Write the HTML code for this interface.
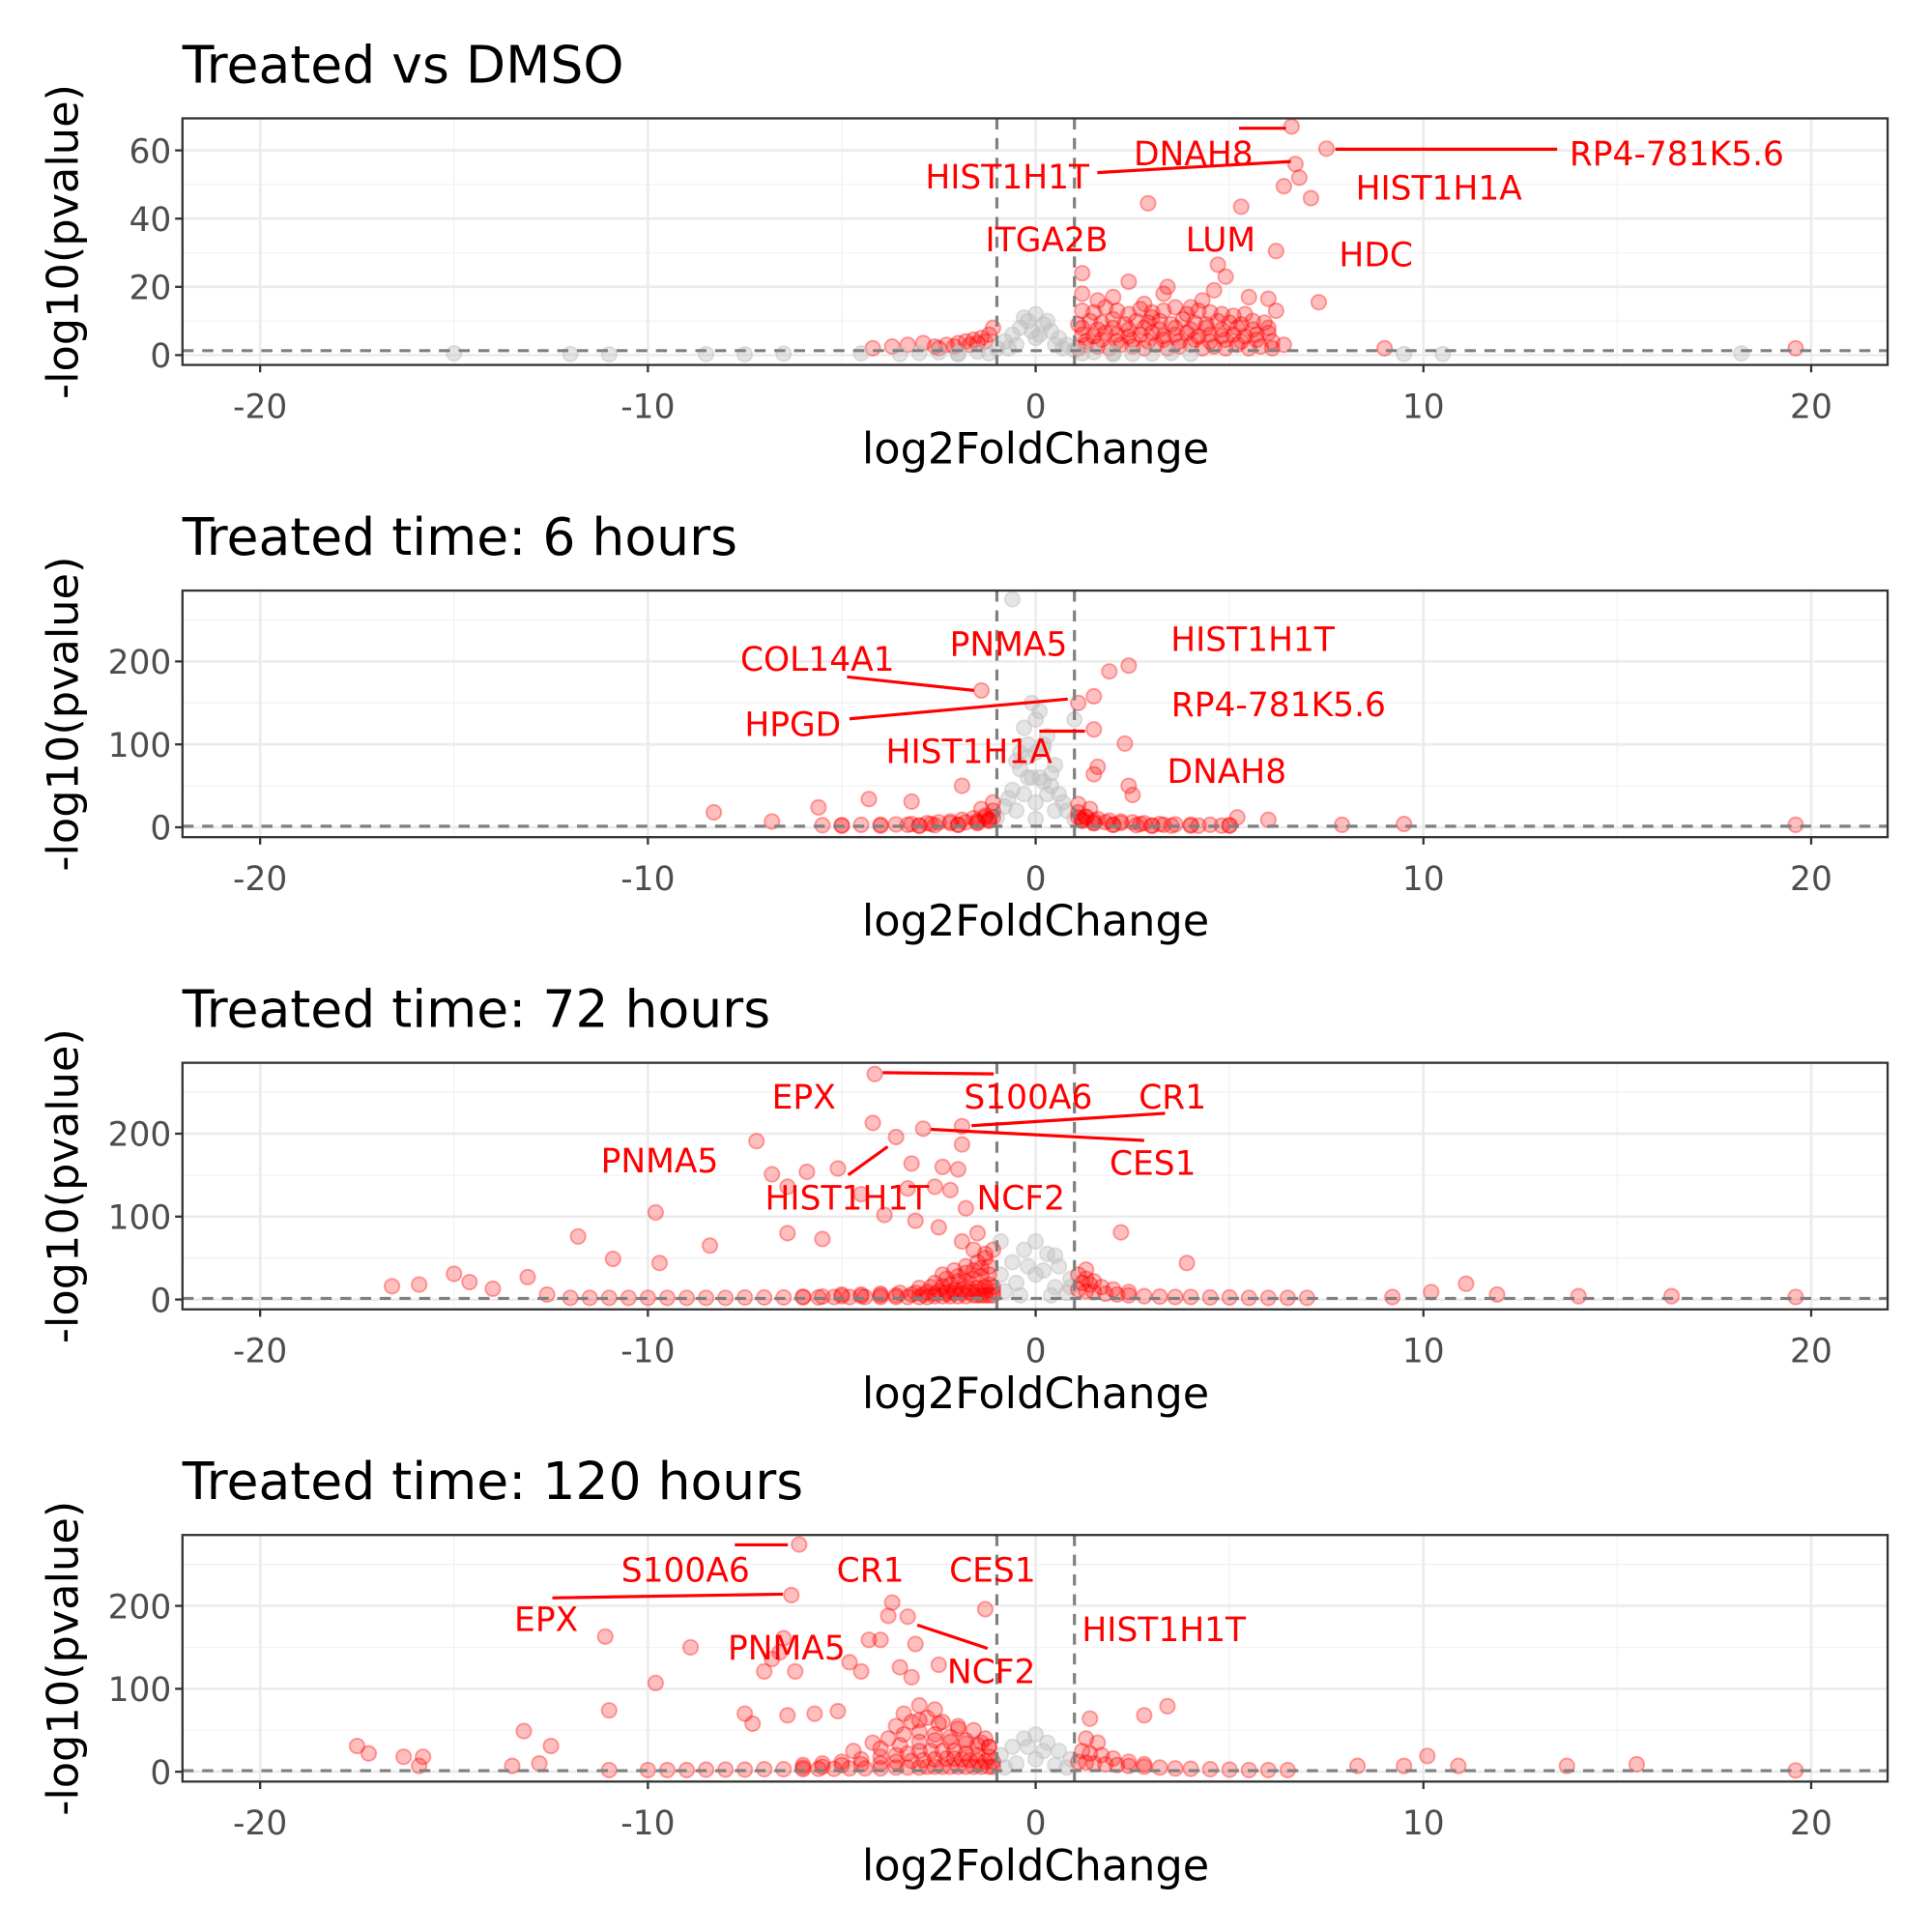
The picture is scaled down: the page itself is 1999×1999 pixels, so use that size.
<!DOCTYPE html>
<html><head><meta charset="utf-8"><style>
html,body{margin:0;padding:0;background:#fff}
svg{display:block;font-family:"DejaVu Sans","Liberation Sans",sans-serif}
</style></head><body>
<svg id="chart" width="1999" height="1999" viewBox="0 0 1567 1567" xmlns="http://www.w3.org/2000/svg"></svg>
<script>
// ---------- data ----------
const panelTitles = ["Treated vs DMSO","Treated time: 6 hours","Treated time: 72 hours","Treated time: 120 hours"];
const xTicks = [-20,-10,0,10,20];
const yTicks1 = [0,20,40,60];
const yTicks2 = [0,100,200];
const lfcCut = 1;
const pCut = 1.30103;

// Panel 1
const p1x = [6.6,7.5,6.7,6.8,6.4,7.1,2.9,5.3,6.2,4.7,4.9,1.2,1.2,2.4,3.4,7.3,6.0,9.0,19.6,18.2,
 1.1,1.3,1.6,1.9,2.2,2.5,2.8,3.1,3.4,3.7,4.0,4.3,4.6,4.9,5.2,5.5,5.8,6.1,6.4,
 1.2,1.5,1.8,2.1,2.4,2.7,3.0,3.3,3.6,3.9,4.2,4.5,4.8,5.1,5.4,5.7,6.0,
 1.1,1.4,1.7,2.0,2.3,2.6,2.9,3.2,3.5,3.8,4.1,4.4,4.7,5.0,5.3,5.6,5.9,
 1.2,1.5,1.8,2.1,2.4,2.7,3.0,3.3,3.6,3.9,4.2,4.5,4.8,5.1,5.4,
 1.6,2.0,2.8,3.3,4.3,4.6,5.5,6.2,4.0,3.0,
 1.3,1.7,2.1,2.5,2.9,3.3,3.7,4.1,4.5,4.9,5.3,5.7,6.1,
 1.2,1.6,2.0,2.4,2.8,3.2,3.6,4.0,4.4,4.8,5.2,5.6,6.0,
 -4.2,-3.7,-3.3,-2.9,-2.6,-2.3,-2.0,-1.8,-1.6,-1.4,-1.2,-1.1,-1.3,-1.5,-1.7,-2.1,-2.5,
 -4.5,-3.5,-3,-2.5,-2,-1.5,-1,-0.8,-0.6,-0.4,-0.2,0,0.2,0.4,0.6,0.8,1,1.5,2,2.5,3,3.5,4,-0.5,0,0.5,-0.3,0.3,-1.2,1.2,-7.5,-8.5,-11,-15,-12,-6.5,9.5,10.5,-0.7,0.7,-0.1,0.1,-2,2];
const p1y = [67,60.5,56,52,49.5,46,44.5,43.5,30.5,26.5,23,24,18,21.5,20,15.5,16.5,2,2,0.5,
 2,3,2.5,2,3,2.5,2,3,2,2.5,3,2,2.5,2,3,2,2.5,2,3,
 6,5.5,6.5,6,5.5,6,6.5,5.5,6,6.5,5.5,6,5.5,6,5.5,6,6.5,
 9,10,9.5,10.5,9,10,9.5,10,9,10.5,9.5,9,10,9.5,9,10,9.5,
 13,12.5,14,13,12,13.5,12.5,13,14,12,13,12.5,12,11.5,12,
 16,17,15,18,16,19,17,13,14,11,
 4,4.5,4,4.5,4,4.5,4,4.5,4,4.5,4,4.5,4,
 8,7.5,8,7.5,8,7.5,8,7.5,8,7.5,8,7.5,8,
 2,2.5,3,3.5,2.5,3,3.5,4,4.5,5,6,8,4,3.5,3,2.5,2,
 0.5,0.3,0.6,0.8,0.5,1,2,4,6,8,10,12,9,7,5,3,1.5,0.8,0.5,0.3,0.4,0.6,0.3,3,5,3,11,10,0.5,0.5,0.2,0.3,0.2,0.5,0.3,0.4,0.3,0.3,2,2,7,6,0.2,0.2];

// Panel 2
const p2x = [-0.6,2.4,1.9,-1.4,1.5,1.1,1.0,1.5,2.3,1.6,1.5,2.4,2.5,-1.9,-3.2,-4.3,-5.6,-8.3,-6.8,5.2,7.9,9.5,19.6,6.0,
 -2,-1.5,-1,-0.8,-0.6,-0.4,-0.2,0,0.2,0.4,0.6,0.8,1,1.5,2,-0.3,0.3,-0.1,0.1,-0.5,0.5,-0.2,0.2,0,-0.7,0.7,0,-3,3,-1.2,1.2,
 -0.5,-0.3,-0.1,0.1,0.3,0.5,-0.4,0,0.4,-0.2,0.2,
 -1.1,-1.3,-1.6,-1.9,-2.2,-2.5,-2.8,-3.2,-3.6,-4,-4.5,-5,-5.5,-1.2,-1.5,-2,-2.6,-3,-1.1,-1.4,
 -1.1,-1.2,-1.3,-1.5,-1.8,-2.2,-2.7,-3.3,-4,-5,
 1.1,1.3,1.6,1.9,2.2,2.5,2.8,3.2,3.6,4,4.5,5,1.2,1.5,2,2.6,3,3.5,4.2,4.8,1.1,1.4,
 1.1,1.2,1.3,1.5,1.8,2.2,2.7,3.3,4,5];
const p2y = [275,195,188,165,158,150,130,118,101,73,64,50,39,50,31,34,24,18,7,12,3,4,3,9,
 3,6,12,25,45,70,100,130,95,65,40,20,10,5,3,120,110,150,140,80,75,60,55,30,35,30,10,2,2,8,8,
 20,40,60,60,40,20,90,90,50,85,100,
 20,14,11,9,7,6,5,4,3.5,3,3,2.5,2.5,8,5,3,2.5,2,30,22,
 12,10,12,8,6,5,4,3,2,2,
 18,13,10,8,7,6,5,4,3.5,3,3,2.5,8,5,3,2.5,2,2,2,2,28,22,
 12,10,12,8,6,5,4,3,2,2];

// Panel 3
const p3x = [-4.15,-4.2,-2.9,-3.6,-1.9,-7.2,-3.2,-5.1,-5.9,-6.8,-1.9,-2.4,-2.0,-6.4,-4.5,-3.3,-2.6,-2.2,-9.8,-11.8,-6.4,-5.5,-3.9,-3.1,-2.5,-1.8,-8.4,-9.7,-10.9,-13.1,-15,-14.6,-15.9,-16.6,-14,-12.6,2.2,3.9,0.5,1.3,11.1,10.2,14,16.4,19.6,11.9,9.2,
 -0.9,-0.6,-0.3,0,0.3,0.6,0.9,-0.5,0,0.5,-0.8,0.8,-0.2,0.2,-0.4,0.4,-0.9,0.9,
 -1.1,-1.2,-1.3,-1.4,-1.5,-1.6,-1.8,-2.0,-2.2,-2.4,-2.6,-2.8,-3.0,-3.3,-3.6,-4.0,-4.4,-4.8,-5.2,-5.6,-6,-6.5,-7,-7.5,-8,-8.5,-9,-9.5,-10,-10.5,-11,-11.5,-12,
 -1.1,-1.2,-1.3,-1.5,-1.7,-1.9,-2.1,-2.3,-2.5,-2.8,-3.1,-3.5,-4,-4.5,-5,
 -1.2,-1.4,-1.6,-1.8,-2,-2.2,-2.4,-2.7,-3,-1.3,-1.5,-1.8,-2.1,-2.4,-1.6,-1.9,
 -1.1,-1.3,-1.5,-1.7,-1.9,-2.1,-2.3,-2.6,-2.9,-3.2,-3.6,-4,-4.5,-5,-5.5,-6,-1.2,-1.4,-1.6,-1.8,-2,-2.3,-2.6,-1.1,-1.3,-1.5,
 1.1,1.3,1.5,1.8,2.1,2.4,2.8,3.2,3.6,4,4.5,5,5.5,6,6.5,7,1.2,1.4,1.7,2,2.4,1.1,1.3,1.5];
const p3y = [272,213,206,196,209,191,164,158,154,151,187,160,157,136,127,134,136,132,105,76,80,73,102,95,87,110,65,44,49,27,31,21,18,16,13,6,81,44,53,36,19,9,4,4,3,6,3,
 30,45,60,70,55,40,25,20,30,15,10,8,40,35,5,5,70,15,
 5,5,5,5,5,5,4,4,4,4,4,3,3,3,3,3,3,3,3,2.5,2.5,2.5,2.5,2.5,2,2,2,2,2,2,2,2,2,
 15,18,15,14,13,12,11,10,10,9,8,8,7,6,6,
 30,28,25,22,22,18,16,15,14,50,45,40,35,30,60,70,
 10,10,9,9,8,8,7,7,6,6,5,5,4,4,3.5,3.5,40,38,35,32,28,25,20,60,55,80,
 12,10,9,7,6,5,4,3.5,3,3,2.5,2.5,2,2,2,2,20,18,15,12,9,30,25,22];

// Panel 4
const p4x = [-6.1,-6.3,-3.7,-3.8,-1.3,-3.3,-11.1,-8.9,-6.5,-6.6,-4.3,-4.0,-3.1,-7.0,-6.8,-6.2,-4.8,-4.5,-3.5,-2.5,-3.2,-9.8,-7.5,-11,-7.3,-6.4,-5.7,-5.1,3.4,2.8,1.4,10.1,10.9,13.7,15.5,19.6,8.3,9.5,-17.5,-17.2,-16.3,-15.8,-15.9,-13.2,-12.5,-13.5,-12.8,
 -0.9,-0.6,-0.3,0,0.3,0.6,0.9,-0.5,0,0.5,-0.8,0.8,-0.2,0.2,
 -1.1,-1.2,-1.4,-1.6,-1.8,-2.0,-2.2,-2.4,-2.6,-2.8,-3.0,-3.3,-3.6,-4.0,-4.4,-4.8,-5.2,-5.6,-6,-6.5,-7,-7.5,-8,-8.5,-9,-9.5,-10,-11,
 -1.2,-1.5,-1.8,-2.1,-2.4,-2.7,-3,-3.3,-3.6,-4,-4.5,-5,-5.5,-6,
 -1.4,-1.8,-2.2,-2.6,-3,-3.4,-3.8,-4.2,-4.7,
 -2,-2.4,-2.8,-3.2,-3.6,-2.6,-3,-3.4,-1.3,-1.2,
 -1.1,-1.3,-1.5,-1.7,-1.9,-2.1,-2.3,-2.6,-2.9,-3.2,-3.6,-4,-4.5,-5,-5.5,-6,-1.2,-1.5,-1.8,-2.2,-2.6,-3,-3.5,-4,-1.6,-2,-2.5,-3,
 1.1,1.3,1.5,1.8,2.1,2.4,2.8,3.2,3.6,4,4.5,5,5.5,6,6.5,1.2,1.4,1.7,2,2.4,2.8,1.3,1.6];
const p4y = [274,213,204,188,196,187,163,150,161,144,159,159,154,121,136,121,132,121,126,129,114,107,70,74,58,68,70,73,79,68,64,19,7,7,9,1.5,7,7,31,22,18,18,7,49,31,7,10,
 20,30,40,45,35,25,15,10,15,8,5,5,30,25,
 6,6,6,6,6,6,6,6,6,6,5,5,5,4,4,4,3.5,3.5,3,3,3,2.5,2.5,2.5,2,2,2,2,
 18,20,22,25,25,25,25,22,20,18,15,12,10,8,
 35,38,42,45,48,45,40,35,25,
 55,60,65,60,55,75,80,70,40,30,
 12,12,13,14,15,16,16,15,14,13,12,10,9,8,6,5,30,32,34,36,38,36,32,28,50,52,58,62,
 12,11,10,9,8,7,6,5,4,3.5,3,2.5,2,2,2,25,22,20,16,12,9,40,35];

const xsAll = [p1x,p2x,p3x,p4x];
const ysAll = [p1y,p2y,p3y,p4y];

const labels1 = ["DNAH8","RP4-781K5.6","HIST1H1T","HIST1H1A","ITGA2B","LUM","HDC"];
const labels2 = ["HIST1H1T","PNMA5","COL14A1","RP4-781K5.6","HPGD","HIST1H1A","DNAH8"];
const labels3 = ["EPX","S100A6","CR1","PNMA5","CES1","HIST1H1T","NCF2"];
const labels4 = ["S100A6","CR1","CES1","EPX","HIST1H1T","PNMA5","NCF2"];

// ---------- layout ----------
const labelPos = [
 [[968,131],[1360,131],[817,150],[1167,159],[849,201],[990,201],[1116,213]],
 [[1016,525],[818,529],[663,541],[1037,578],[643,594],[786,616],[995,632]],
 [[652,896],[834,896],[951,896],[535,948],[935,950],[687,978],[828,978]],
 [[556,1280],[706,1280],[805,1280],[443,1320],[944,1328],[638,1343],[804,1362]]];
const segs = [
 [[1005,104,1043,104],[1083,121,1263,121],[890,140,1047,131]],
 [[687,549,790,560],[689,583,866,567],[843,593,880,593]],
 [[716,870,806,871],[788,913,945,903],[755,916,928,925],[688,953,720,930]],
 [[596,1253,639,1253],[448,1296,635,1293],[744,1318,801,1337]]];
const labelSets=[labels1,labels2,labels3,labels4];

const NS="http://www.w3.org/2000/svg";
const svg=document.getElementById('chart');
function mk(tag,attrs,parent){const e=document.createElementNS(NS,tag);for(const k in attrs)e.setAttribute(k,attrs[k]);(parent||svg).appendChild(e);return e;}

const L=148,R=1531,PH=200,OFF=383;
const xScale=v=>840+v*31.45;

for(let p=0;p<4;p++){
  const top=96+p*OFF, bot=top+PH;
  const y0=bot-8;
  const yTicks = p===0?yTicks1:yTicks2;
  const ppu = p===0?2.767:0.6725;
  const yScale=v=>y0-v*ppu;
  const g=mk('g',{});
  
  

  const t=mk('text',{x:148,y:top-29,'font-size':42,fill:'#000'},g);
  t.textContent=panelTitles[p];
  
  

  for(let i=0;i<xTicks.length-1;i++){const xv=(xTicks[i]+xTicks[i+1])/2;mk('line',{x1:xScale(xv),x2:xScale(xv),y1:top,y2:bot,stroke:'#f2f2f2','stroke-width':1},g);}
  for(let i=0;i<yTicks.length;i++){const yv=yTicks[i]+(yTicks[1]-yTicks[0])/2;const yy=yScale(yv);if(yy>top)mk('line',{x1:L,x2:R,y1:yy,y2:yy,stroke:'#f2f2f2','stroke-width':1},g);}
  xTicks.forEach(v=>mk('line',{x1:xScale(v),x2:xScale(v),y1:top,y2:bot,stroke:'#ebebeb','stroke-width':2},g));
  yTicks.forEach(v=>mk('line',{x1:L,x2:R,y1:yScale(v),y2:yScale(v),stroke:'#ebebeb','stroke-width':2},g));

  const xs=xsAll[p], ys=ysAll[p];
  const pg=mk('g',{},g);
  
  
  for(let i=0;i<xs.length;i++){
    const sig=Math.abs(xs[i])>lfcCut && ys[i]>pCut;
    const c=sig?'#ff0000':'#bebebe';
    const cy=Math.max(yScale(ys[i]),top+4);
    const pt=mk('circle',{cx:xScale(xs[i]),cy:cy,r:6,fill:c,'fill-opacity':sig?0.25:0.4,stroke:c,'stroke-opacity':sig?0.35:0.45,'stroke-width':1.5},pg);
    
    
  }

  [-lfcCut,lfcCut].forEach(v=>mk('line',{x1:xScale(v),x2:xScale(v),y1:top,y2:bot,stroke:'#808080','stroke-width':2.5,'stroke-dasharray':'9,7'},g));
  mk('line',{x1:L,x2:R,y1:yScale(pCut),y2:yScale(pCut),stroke:'#808080','stroke-width':2.5,'stroke-dasharray':'9,7'},g);

  segs[p].forEach(s=>mk('line',{x1:s[0],y1:s[1],x2:s[2],y2:s[3],stroke:'#ff0000','stroke-width':2.5},g));
  labelSets[p].forEach((lab,i)=>{const tx=mk('text',{x:labelPos[p][i][0],y:labelPos[p][i][1]+3,'font-size':27,fill:'#ff0000','text-anchor':'middle'},g);tx.textContent=lab;
    
    });

  mk('rect',{x:L,y:top,width:R-L,height:PH,fill:'none',stroke:'#333333','stroke-width':1.8},g);

  xTicks.forEach(v=>{mk('line',{x1:xScale(v),x2:xScale(v),y1:bot,y2:bot+6,stroke:'#333','stroke-width':1.8},g);
    const tx=mk('text',{x:xScale(v),y:bot+43,'font-size':27,fill:'#4d4d4d','text-anchor':'middle'},g);tx.textContent=v;
    
    });
  yTicks.forEach(v=>{mk('line',{x1:L-6,x2:L,y1:yScale(v),y2:yScale(v),stroke:'#333','stroke-width':1.8},g);
    const tx=mk('text',{x:L-9,y:yScale(v)+10,'font-size':27,fill:'#4d4d4d','text-anchor':'end'},g);tx.textContent=v;
    
    });

  const xt=mk('text',{x:840,y:bot+80,'font-size':35,fill:'#000','text-anchor':'middle'},g);xt.textContent='log2FoldChange';
  
  
  const yt=mk('text',{x:0,y:0,'font-size':35,fill:'#000','text-anchor':'middle',transform:`translate(63,${top+PH/2}) rotate(-90)`},g);yt.textContent='-log10(pvalue)';
  
  
}
</script>
</body></html>
